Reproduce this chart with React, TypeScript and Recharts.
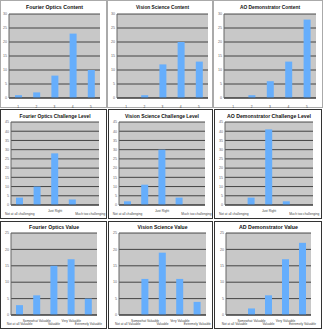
import { BarChart, Bar, XAxis, YAxis, CartesianGrid } from 'recharts'

// categories
const contentCats = ['1', '2', '3', '4', '5']
const challengeCats = ['Not at all challenging', '', 'Just Right', '', 'Much too challenging']
const valueCats = ['Not at all Valuable', 'Somewhat Valuable', 'Valuable', 'Very Valuable', 'Extremely Valuable']

// series (response counts)
const fourierContent = [1, 2, 8, 23, 10]
const visionContent = [0, 1, 12, 20, 13]
const aoContent = [0, 1, 6, 13, 28]
const fourierChallenge = [4, 10, 28, 3, 0]
const visionChallenge = [2, 11, 30, 4, 0]
const aoChallenge = [0, 4, 41, 2, 0]
const fourierValue = [3, 6, 15, 17, 5]
const visionValue = [0, 11, 19, 11, 4]
const aoValue = [0, 2, 6, 17, 22]

// y ticks
const contentTicks = [0, 5, 10, 15, 20, 25, 30]
const challengeTicks = [0, 5, 10, 15, 20, 25, 30, 35, 40, 45]
const valueTicks = [0, 5, 10, 15, 20, 25]

const FONT = '"Liberation Sans", Arial, sans-serif'

type PanelProps = {
  title: string
  titleLen: number
  cats: string[]
  values: number[]
  ticks: number[]
  box: { x: number; y: number; w: number; h: number }
  plot: { l: number; r: number; t: number; b: number }
  titleY: number
  upper: number[]
  border: string
}

function Panel({ title, titleLen, cats, values, ticks, box, plot, titleY, upper, border }: PanelProps) {
  const data = cats.map((c, i) => ({ key: `${i}`, name: c, v: values[i] }))
  const yMax = ticks[ticks.length - 1]

  const renderTick = (props: any) => {
    const { x, y, index } = props
    const label = cats[index]
    if (!label) return <g />
    const off = upper.includes(index) ? 7 : 10
    return (
      <text x={x} y={y + off} textAnchor="middle" fontSize={3.2} fill="#444" fontFamily={FONT}>
        {label}
      </text>
    )
  }

  return (
    <div style={{ position: 'absolute', left: box.x, top: box.y, width: box.w, height: box.h, border: `1px solid ${border}`, boxSizing: 'border-box', background: '#fff' }}>
      <div style={{ position: 'absolute', left: -1, top: -1 }}>
        <BarChart
          width={box.w}
          height={box.h}
          data={data}
          margin={{ top: plot.t - box.y, right: box.x + box.w - plot.r, bottom: 0, left: 0 }}
          barSize={7}
        >
          <CartesianGrid vertical={false} stroke="#222" strokeWidth={0.8} fill="#c8c8c8" />
          <XAxis
            dataKey="key"
            height={box.y + box.h - plot.b}
            tick={renderTick}
            tickLine={false}
            tickSize={0}
            tickMargin={0}
            interval={0}
            axisLine={{ stroke: '#333' }}
          />
          <YAxis
            width={plot.l - box.x}
            domain={[0, yMax]}
            ticks={ticks}
            interval={0}
            tick={{ fontSize: 3.6, fill: '#666', fontFamily: FONT }}
            tickLine={false}
            tickSize={0}
            tickMargin={2}
            axisLine={{ stroke: '#666' }}
          />
          <Bar dataKey="v" fill="#66aefc" isAnimationActive={false} />
        </BarChart>
        <svg width={box.w} height={box.h} style={{ position: 'absolute', left: 0, top: 0, pointerEvents: 'none' }}>
          <text
            x={(plot.l + plot.r) / 2 - box.x}
            y={titleY - box.y + 1.8}
            textAnchor="middle"
            fontSize={5}
            fontWeight="bold"
            fontFamily={FONT}
            fill="#111"
            textLength={titleLen}
            lengthAdjust="spacingAndGlyphs"
          >
            {title}
          </text>
        </svg>
      </div>
    </div>
  )
}

export default function App() {
  const row1 = { y: 0, h: 108, t: 14, b: 98, title: 7 }
  const row2 = { y: 109, h: 110, t: 122, b: 205, title: 116 }
  const row3 = { y: 221, h: 108, t: 233, b: 315, title: 227 }

  return (
    <div style={{ position: 'fixed', left: 0, top: 0, width: 324, height: 329, background: '#fff', overflow: 'hidden' }}>
      <Panel title="Fourier Optics Content" titleLen={57} cats={contentCats} values={fourierContent} ticks={contentTicks}
        box={{ x: 0, y: row1.y, w: 107, h: row1.h }} plot={{ l: 9, r: 100, t: row1.t, b: row1.b }} titleY={row1.title} upper={[]} border="#aaa" />
      <Panel title="Vision Science Content" titleLen={53} cats={contentCats} values={visionContent} ticks={contentTicks}
        box={{ x: 107, y: row1.y, w: 106, h: row1.h }} plot={{ l: 117, r: 208, t: row1.t, b: row1.b }} titleY={row1.title} upper={[]} border="#aaa" />
      <Panel title="AO Demonstrator Content" titleLen={60} cats={contentCats} values={aoContent} ticks={contentTicks}
        box={{ x: 213, y: row1.y, w: 110, h: row1.h }} plot={{ l: 224, r: 316, t: row1.t, b: row1.b }} titleY={row1.title} upper={[]} border="#aaa" />

      <Panel title="Fourier Optics Challenge Level" titleLen={71} cats={challengeCats} values={fourierChallenge} ticks={challengeTicks}
        box={{ x: 0, y: row2.y, w: 107, h: row2.h }} plot={{ l: 11, r: 99, t: row2.t, b: row2.b }} titleY={row2.title} upper={[2]} border="#333" />
      <Panel title="Vision Science Challenge Level" titleLen={74} cats={challengeCats} values={visionChallenge} ticks={challengeTicks}
        box={{ x: 108, y: row2.y, w: 105, h: row2.h }} plot={{ l: 119, r: 205, t: row2.t, b: row2.b }} titleY={row2.title} upper={[2]} border="#333" />
      <Panel title="AO Demonstrator Challenge Level" titleLen={84} cats={challengeCats} values={aoChallenge} ticks={challengeTicks}
        box={{ x: 214, y: row2.y, w: 108, h: row2.h }} plot={{ l: 225, r: 313, t: row2.t, b: row2.b }} titleY={row2.title} upper={[2]} border="#333" />

      <Panel title="Fourier Optics Value" titleLen={50} cats={valueCats} values={fourierValue} ticks={valueTicks}
        box={{ x: 0, y: row3.y, w: 107, h: row3.h }} plot={{ l: 11, r: 97, t: row3.t, b: row3.b }} titleY={row3.title} upper={[1, 3]} border="#333" />
      <Panel title="Vision Science Value" titleLen={50} cats={valueCats} values={visionValue} ticks={valueTicks}
        box={{ x: 108, y: row3.y, w: 105, h: row3.h }} plot={{ l: 119, r: 206, t: row3.t, b: row3.b }} titleY={row3.title} upper={[1, 3]} border="#333" />
      <Panel title="AD Demonstrator Value" titleLen={59} cats={valueCats} values={aoValue} ticks={valueTicks}
        box={{ x: 214, y: row3.y, w: 108, h: row3.h }} plot={{ l: 226, r: 311, t: row3.t, b: row3.b }} titleY={row3.title} upper={[1, 3]} border="#333" />
    </div>
  )
}
